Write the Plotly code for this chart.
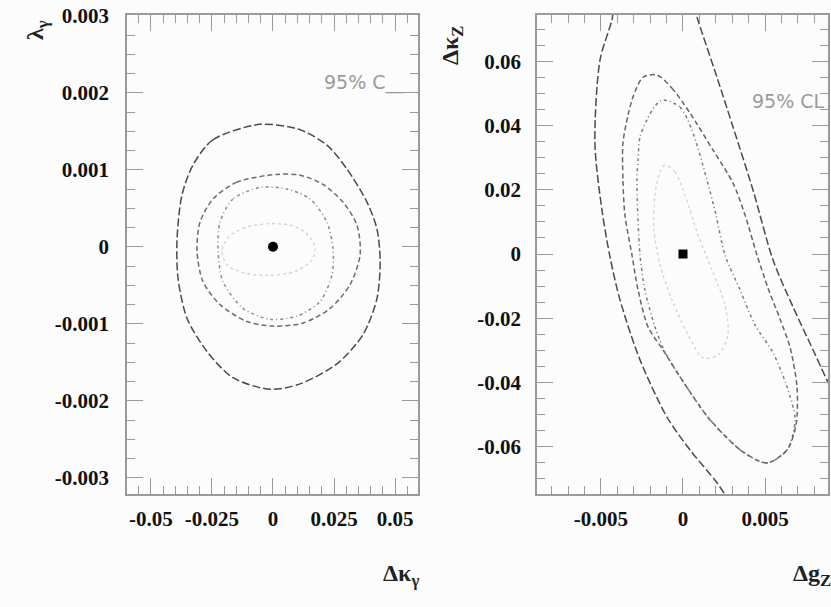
import plotly.graph_objects as go

# ---------------- left panel: lambda_gamma vs Delta kappa_gamma ----------------
kg_ticks = [-0.05, -0.025, 0, 0.025, 0.05]
kg_ticktext = ["-0.05", "-0.025", "0", "0.025", "0.05"]
lg_ticks = [-0.003, -0.002, -0.001, 0, 0.001, 0.002, 0.003]
lg_ticktext = ["-0.003", "-0.002", "-0.001", "0", "0.001", "0.002", "0.003"]

lg_outer_x = [-0.0053, -0.0246, -0.0328, -0.0373, -0.0393, -0.0389, -0.0352, -0.0270, -0.0164, -0.0012,
              0.0111, 0.0262, 0.0369, 0.0426, 0.0439, 0.0426, 0.0385, 0.0303, 0.0221, 0.0111, -0.0053]
lg_outer_y = [0.00159, 0.00139, 0.00106, 0.00067, 0.00010, -0.00041, -0.00093, -0.00136, -0.00170, -0.00185,
              -0.00178, -0.00152, -0.00114, -0.00067, -0.00019, 0.00023, 0.00058, 0.00101, 0.00132, 0.00152, 0.00159]

lg_mid_x = [0.0016, -0.0148, -0.0246, -0.0299, -0.0311, -0.0287, -0.0217, -0.0107, 0.0000, 0.0123,
            0.0234, 0.0316, 0.0357, 0.0344, 0.0287, 0.0205, 0.0111, 0.0016]
lg_mid_y = [0.00094, 0.00084, 0.00062, 0.00032, -0.00006, -0.00045, -0.00075, -0.00097, -0.00103, -0.00099,
            -0.00080, -0.00049, -0.00010, 0.00028, 0.00058, 0.00081, 0.00093, 0.00094]

lg_inner_x = [-0.0053, -0.0164, -0.0217, -0.0225, -0.0205, -0.0123, -0.0012, 0.0098, 0.0193, 0.0242,
              0.0246, 0.0221, 0.0152, 0.0057, -0.0053]
lg_inner_y = [0.00077, 0.00062, 0.00032, -0.00006, -0.00045, -0.00080, -0.00094, -0.00090, -0.00071, -0.00036,
              -0.00003, 0.00032, 0.00062, 0.00075, 0.00077]

lg_core_x = [-0.0021, -0.0115, -0.0184, -0.0209, -0.0184, -0.0103, -0.0012, 0.0090, 0.0160, 0.0172,
             0.0131, 0.0070, -0.0021]
lg_core_y = [0.00030, 0.00025, 0.00012, -0.00006, -0.00025, -0.00035, -0.00037, -0.00032, -0.00017, 0.00000,
             0.00019, 0.00028, 0.00030]

# ---------------- right panel: Delta kappa_Z vs Delta g_Z ----------------
gz_ticks = [-0.005, 0, 0.005]
gz_ticktext = ["-0.005", "0", "0.005"]
kz_ticks = [-0.06, -0.04, -0.02, 0, 0.02, 0.04, 0.06]
kz_ticktext = ["-0.06", "-0.04", "-0.02", "0", "0.02", "0.04", "0.06"]

kz_outer_x = [0.00988, 0.00878, 0.00793, 0.00671, 0.00549, 0.00427, 0.00305, 0.00207, 0.00091, 0.00043,
              -0.00201, -0.00415, -0.00433, -0.00506, -0.00537, -0.00494, -0.00445, -0.00384, -0.00262,
              -0.00098, 0.00043, 0.00207, 0.00317]
kz_outer_y = [-0.0502, -0.0393, -0.0299, -0.0165, -0.0019, 0.0199, 0.0396, 0.0551, 0.0729, 0.0807,
              0.0838, 0.0776, 0.0729, 0.0604, 0.0346, 0.0137, -0.0009, -0.0143, -0.0330,
              -0.0508, -0.0611, -0.0713, -0.0798]

kz_mid_x = [-0.00159, -0.00067, 0.00043, 0.00183, 0.00305, 0.00378, 0.00451, 0.00518, 0.00592, 0.00652,
            0.00695, 0.00689, 0.00634, 0.00512, 0.00366, 0.00165, -0.00018, -0.00122, -0.00213, -0.00274,
            -0.00311, -0.00354, -0.00366, -0.00366, -0.00335, -0.00305, -0.00244, -0.00159]
kz_mid_y = [0.0558, 0.0517, 0.0439, 0.0324, 0.0221, 0.0122, -0.0003, -0.0106, -0.0203, -0.0290,
            -0.0414, -0.0533, -0.0611, -0.0651, -0.0617, -0.0517, -0.0383, -0.0299, -0.0227, -0.0112,
            -0.0003, 0.0122, 0.0231, 0.0346, 0.0433, 0.0489, 0.0551, 0.0558]

kz_inner_x = [-0.00122, -0.00018, 0.00055, 0.00146, 0.00201, 0.00256, 0.00348, 0.00439, 0.00549, 0.00634,
              0.00683, 0.00634, 0.00512, 0.00366, 0.00165, -0.00018, -0.00110, -0.00171, -0.00232, -0.00262,
              -0.00281, -0.00274, -0.00262, -0.00220, -0.00171, -0.00122]
kz_inner_y = [0.0480, 0.0458, 0.0386, 0.0231, 0.0122, -0.0003, -0.0112, -0.0221, -0.0308, -0.0414,
              -0.0517, -0.0611, -0.0651, -0.0617, -0.0517, -0.0383, -0.0305, -0.0227, -0.0112, -0.0003,
              0.0231, 0.0293, 0.0365, 0.0418, 0.0461, 0.0480]

kz_core_x = [-0.00110, -0.00049, 0.00012, 0.00092, 0.00177, 0.00256, 0.00274, 0.00213, 0.00122, 0.00031,
             -0.00067, -0.00140, -0.00177, -0.00171, -0.00140, -0.00110]
kz_core_y = [0.0277, 0.0256, 0.0184, 0.0059, -0.0050, -0.0159, -0.0252, -0.0315, -0.0324, -0.0252,
             -0.0143, -0.0034, 0.0075, 0.0184, 0.0256, 0.0277]

best_fit = [0.0, 0.0]

W, H = 831, 607
serif = "Liberation Serif"
frame_col = "#9a9a9a"

fig = go.Figure()


def contour(x, y, col, dash, width, xa, ya):
    fig.add_trace(go.Scatter(x=x, y=y, mode="lines", xaxis=xa, yaxis=ya,
                             line=dict(color=col, dash=dash, width=width, shape="spline", smoothing=0.8),
                             hoverinfo="skip", showlegend=False))


contour(lg_core_x, lg_core_y, "#d2d2d2", "dot", 1.3, "x", "y")
contour(lg_inner_x, lg_inner_y, "#8a8a8a", "3px,3px,1px,3px", 1.5, "x", "y")
contour(lg_mid_x, lg_mid_y, "#6c6c6c", "5px,3px", 1.5, "x", "y")
contour(lg_outer_x, lg_outer_y, "#4a4a4a", "8px,3px", 1.5, "x", "y")
fig.add_trace(go.Scatter(x=[best_fit[0]], y=[best_fit[1]], mode="markers", xaxis="x", yaxis="y",
                         marker=dict(symbol="circle", size=10, color="black"), showlegend=False))

contour(kz_core_x, kz_core_y, "#d2d2d2", "dot", 1.3, "x2", "y2")
contour(kz_inner_x, kz_inner_y, "#7a7a7a", "3px,3px,1px,3px", 1.5, "x2", "y2")
contour(kz_mid_x, kz_mid_y, "#666666", "5px,3px", 1.5, "x2", "y2")
contour(kz_outer_x, kz_outer_y, "#4a4a4a", "8px,3px", 1.5, "x2", "y2")
fig.add_trace(go.Scatter(x=[best_fit[0]], y=[best_fit[1]], mode="markers", xaxis="x2", yaxis="y2",
                         marker=dict(symbol="square", size=9, color="black"), showlegend=False))

tick_font = dict(family=serif, size=21, color="#111111", weight="bold")


def axis_common(domain, rng, tv, tt, minor_dtick, anchor, standoff):
    return dict(domain=domain, range=rng, tickvals=tv, ticktext=tt, anchor=anchor, automargin=False,
                showline=True, linecolor=frame_col, linewidth=1.5, mirror="ticks",
                ticks="inside", ticklen=16, tickcolor=frame_col, tickwidth=1,
                minor=dict(dtick=minor_dtick, ticks="inside", ticklen=8, tickcolor=frame_col, tickwidth=1),
                showgrid=False, zeroline=False, tickfont=tick_font, ticklabelstandoff=standoff)


ydom = [1 - 494 / H, 1 - 15 / H]
fig.update_layout(
    width=W, height=H, margin=dict(l=0, r=0, t=0, b=0),
    paper_bgcolor="#fbfcfb", plot_bgcolor="#fbfcfb",
    xaxis=axis_common([127 / W, 418 / W], [-0.0598, 0.0594], kg_ticks, kg_ticktext, 0.005, "y", 5),
    yaxis=axis_common(ydom, [-0.00321, 0.00301], lg_ticks, lg_ticktext, 0.00025, "x", 12),
    xaxis2=axis_common([537 / W, 828 / W], [-0.0089, 0.00884], gz_ticks, gz_ticktext, 0.001, "y2", 5),
    yaxis2=axis_common(ydom, [-0.0748, 0.0745], kz_ticks, kz_ticktext, 0.005, "x2", 10),
)

title_font = dict(family=serif, size=24, color="#222222", weight="bold")
label_font = dict(family="DejaVu Sans", size=19, color="#9a9a9a")


def ann(px, py, text, font, angle=0, xanchor="center"):
    fig.add_annotation(x=px / W, y=1 - py / H, xref="paper", yref="paper", text=text, showarrow=False,
                       font=font, textangle=angle, xanchor=xanchor, yanchor="middle")


ann(37, 30, "λ<sub>γ</sub>", title_font, -90)
ann(401, 575, "Δκ<sub>γ</sub>", title_font)
ann(452, 45, "Δκ<sub>Z</sub>", title_font, -90)
ann(812, 575, "Δg<sub>Z</sub>", title_font)
ann(322, 82, "95% C__", label_font, xanchor="left")
ann(750, 101, "95% CL", label_font, xanchor="left")

fig.write_html("out.html")
